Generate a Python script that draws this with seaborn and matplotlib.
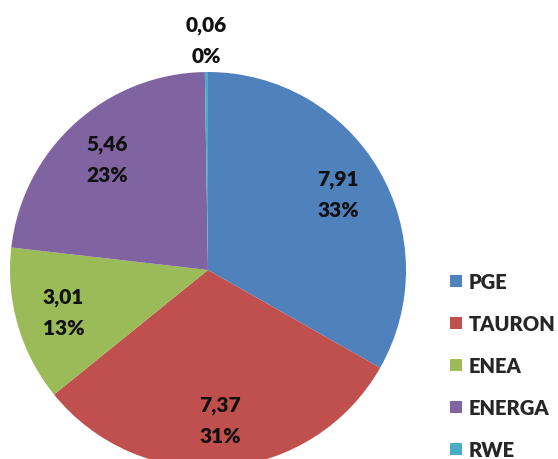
import numpy as np
import matplotlib
matplotlib.use("Agg")
import matplotlib.pyplot as plt
import seaborn as sns

# dane
companies = ["PGE", "TAURON", "ENEA", "ENERGA", "RWE"]
values = [7.91, 7.37, 3.01, 5.46, 0.06]
colors = ["#4F81BD", "#C0504D", "#9BBB59", "#8064A2", "#4BACC6"]

sns.set_theme(style="white")
plt.rcParams['font.family'] = ['Lato', 'DejaVu Sans']

total = sum(values)
FS = 15
WEIGHT = 'heavy'

def fmt_label(p):
    if p < 1:
        return ""
    v = p * total / 100
    return f"{v:.2f}".replace('.', ',') + f"\n{p:.0f}%"

fig = plt.figure(figsize=(5.58, 4.60), dpi=100)
ax = fig.add_axes([0, 0, 1, 1])

wedges, texts, autotexts = ax.pie(values, colors=sns.color_palette(colors),
                                  startangle=90, counterclock=False,
                                  autopct=fmt_label, pctdistance=0.76,
                                  wedgeprops=dict(linewidth=0),
                                  textprops=dict(fontsize=FS, fontweight=WEIGHT,
                                                 color='#111111', linespacing=1.75))

# maly wycinek - etykieta na zewnatrz
for w, v in zip(wedges, values):
    if v / total < 0.01:
        ang = np.deg2rad((w.theta1 + w.theta2) / 2)
        ax.text(1.16 * np.cos(ang), 1.16 * np.sin(ang),
                f"{v:.2f}".replace('.', ',') + f"\n{v / total * 100:.0f}%",
                ha='center', va='center', fontsize=FS, fontweight=WEIGHT,
                color='#111111', linespacing=1.75)

ax.set_aspect('equal')
ax.set_xlim(-1.0505, 1.7677)
ax.set_ylim(-0.9545, 1.3687)
ax.axis('off')

ax.legend(wedges, companies, loc='lower left', bbox_to_anchor=(0.807, 0.0),
          bbox_transform=fig.transFigure, frameon=False,
          handlelength=0.6, handleheight=0.6, handletextpad=0.3,
          labelspacing=1.14, borderpad=0, borderaxespad=0,
          prop=dict(weight=WEIGHT, size=14.5))

plt.savefig("out.png", dpi=100)
